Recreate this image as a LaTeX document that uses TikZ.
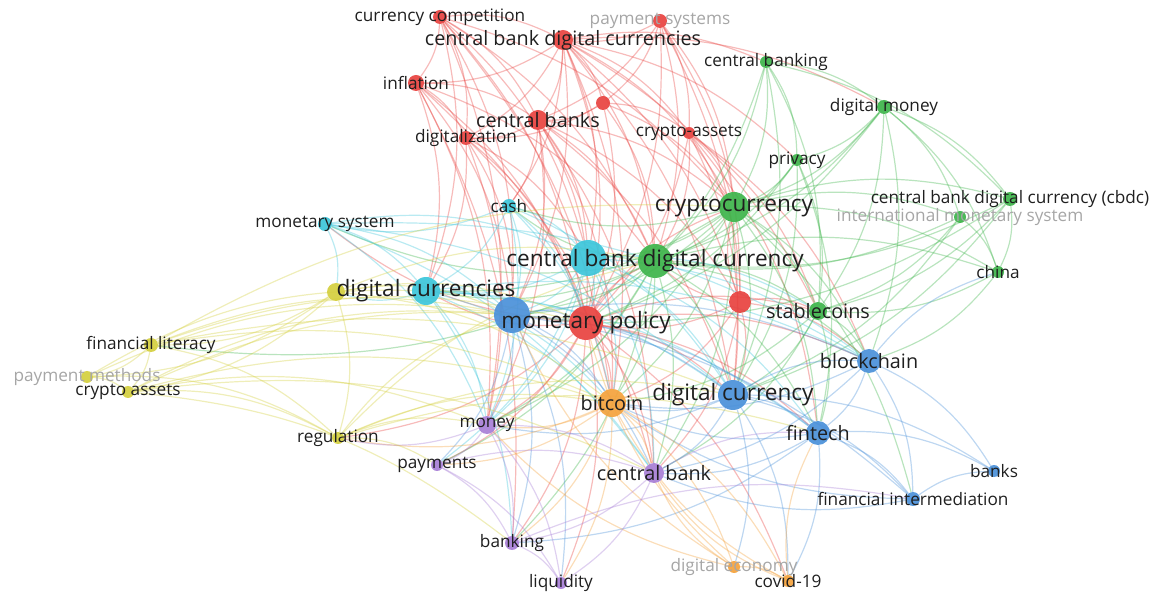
\documentclass[tikz,border=0pt]{standalone}
\usepackage{fontspec}
\setmainfont{Open Sans}
\usetikzlibrary{backgrounds}

\definecolor{cred}{HTML}{E8423F}
\definecolor{cgreen}{HTML}{3DB44A}
\definecolor{ccyan}{HTML}{3CC5DA}
\definecolor{cblue}{HTML}{4A90D9}
\definecolor{corange}{HTML}{F4A23C}
\definecolor{cpurple}{HTML}{A77ED6}
\definecolor{cyellow}{HTML}{D4CF3E}

\begin{document}
\begin{tikzpicture}[x=1pt,y=-1pt,
    dot/.style={circle,fill=#1,fill opacity=0.92,inner sep=0pt},
    lb/.style={text=black!88,font=\fontsize{17.2}{19}\selectfont,inner sep=1pt},
    lbm/.style={lb,font=\fontsize{19.8}{21}\selectfont},
    lbb/.style={lb,font=\fontsize{22.6}{24}\selectfont},
    lbf/.style={lb,text=black!35},
    ln/.style={line width=1.2pt,draw opacity=0.36,bend left=16},
    lred/.style={ln,draw=cred},
    lgreen/.style={ln,draw=cgreen},
    lcyan/.style={ln,draw=ccyan},
    lblue/.style={ln,draw=cblue},
    lorange/.style={ln,draw=corange},
    lpurple/.style={ln,draw=cpurple},
    lyellow/.style={ln,draw=cyellow}]
  \useasboundingbox (0,0) rectangle (1165,593);

  % red cluster
  \node[dot=cred,minimum size=14pt,label={[lb]center:currency competition}] (ccomp) at (440,17) {};
  \node[dot=cred,minimum size=14pt,label={[lbf]center:payment systems}] (psys) at (660,21) {};
  \node[dot=cred,minimum size=20pt,label={[lbm]center:central bank digital currencies}] (cbdcs) at (563,40) {};
  \node[dot=cred,minimum size=16pt,label={[lb]center:inflation}] (infl) at (416,83) {};
  \node[dot=cred,minimum size=14pt] (redA) at (603,103) {};
  \node[dot=cred,minimum size=20pt,label={[lbm]center:central banks}] (cbanks) at (538,120) {};
  \node[dot=cred,minimum size=14pt,label={[lb]center:digitalization}] (digit) at (466,138) {};
  \node[dot=cred,minimum size=12pt,label={[lb]center:crypto-assets}] (cassets) at (689,133) {};
  \node[dot=cred,minimum size=22pt] (redB) at (740,302) {};

  % green cluster
  \node[dot=cgreen,minimum size=12pt,label={[lb]center:central banking}] (cbanking) at (766,62) {};
  \node[dot=cgreen,minimum size=14pt,label={[lb]center:digital money}] (dmoney) at (884,107) {};
  \node[dot=cgreen,minimum size=12pt,label={[lb]center:privacy}] (priv) at (797,160) {};
  \node[dot=cgreen,minimum size=14pt,label={[lb]center:central bank digital currency (cbdc)}] (cbdcc) at (1010,199) {};
  \node[dot=cgreen,minimum size=12pt,label={[lbf]center:international monetary system}] (ims) at (960,217) {};
  \node[dot=cgreen,minimum size=12pt,label={[lb]center:china}] (china) at (998,272) {};
  \node[dot=cgreen,minimum size=18pt,label={[lbm]center:stablecoins}] (stable) at (818,311) {};
  \node[dot=cgreen,minimum size=30pt,label={[lbb]center:cryptocurrency}] (crypto) at (734,207) {};

  % cyan cluster
  \node[dot=ccyan,minimum size=14pt,label={[lb]center:cash}] (cash) at (509,206) {};
  \node[dot=ccyan,minimum size=14pt,label={[lb]center:monetary system}] (msys) at (325,224) {};
  \node[dot=ccyan,minimum size=36pt] (cyanA) at (588,258) {};
  \node[dot=cgreen,minimum size=34pt,label={[lbb]center:central bank digital currency}] (cbdc) at (655,261) {};
  \node[dot=cyellow,minimum size=18pt] (yelA) at (336,292) {};
  \node[dot=ccyan,minimum size=28pt,label={[lbb]center:digital currencies}] (dcs) at (426,291) {};

  % blue cluster
  \node[dot=cblue,minimum size=36pt] (blueA) at (512,315) {};
  \node[dot=cred,minimum size=34pt,label={[lbb]center:monetary policy}] (mpol) at (586,323) {};
  \node[dot=cblue,minimum size=24pt,label={[lbm]center:blockchain}] (bchain) at (869,361) {};
  \node[dot=cblue,minimum size=30pt,label={[lbb]center:digital currency}] (dcur) at (733,395) {};
  \node[dot=cblue,minimum size=24pt,label={[lbm]center:fintech}] (fintech) at (818,433) {};
  \node[dot=cblue,minimum size=12pt,label={[lb]center:banks}] (banks) at (994,471) {};
  \node[dot=cblue,minimum size=14pt,label={[lb]center:financial intermediation}] (finint) at (913,499) {};

  % orange cluster
  \node[dot=corange,minimum size=28pt,label={[lbm]center:bitcoin}] (btc) at (612,403) {};
  \node[dot=corange,minimum size=12pt,label={[lbf]center:digital economy}] (decon) at (734,567) {};
  \node[dot=corange,minimum size=12pt,label={[lb]center:covid-19}] (covid) at (788,581) {};

  % purple cluster
  \node[dot=cpurple,minimum size=18pt,label={[lb]center:money}] (money) at (487,425) {};
  \node[dot=cpurple,minimum size=12pt,label={[lb]center:payments}] (pays) at (437,465) {};
  \node[dot=cpurple,minimum size=20pt,label={[lbm]center:central bank}] (cbank) at (654,473) {};
  \node[dot=cpurple,minimum size=14pt,label={[lb]center:banking}] (banking) at (512,543) {};
  \node[dot=cpurple,minimum size=12pt,label={[lb]center:liquidity}] (liq) at (561,583) {};

  % yellow cluster
  \node[dot=cyellow,minimum size=14pt,label={[lb]center:financial literacy}] (flit) at (151,345) {};
  \node[dot=cyellow,minimum size=12pt,label={[lbf]center:payment methods}] (pmeth) at (87,377) {};
  \node[dot=cyellow,minimum size=12pt,label={[lb]center:crypto assets}] (cassets2) at (128,392) {};
  \node[dot=cyellow,minimum size=12pt,label={[lb]center:regulation}] (reg) at (338,438) {};

  \begin{pgfonlayer}{background}
  % red links
  \path[lred] (ccomp) edge (infl) (ccomp) edge (cbanks) (ccomp) edge (cbdcs) (ccomp) edge (digit)
    (ccomp) edge (mpol) (ccomp) edge (cbdc) (ccomp) edge (crypto) (ccomp) edge (cyanA)
    (ccomp) edge (blueA) (ccomp) edge (dcs) (ccomp) edge (btc) (ccomp) edge (money);
  \path[lred] (psys) edge (cbdcs) (psys) edge (cbanks) (psys) edge (cassets) (psys) edge (mpol)
    (psys) edge (redB) (psys) edge (crypto) (psys) edge (cbdc) (psys) edge (redA) (psys) edge (dcur);
  \path[lred] (cbdcs) edge (infl) (cbdcs) edge (cbanks) (cbdcs) edge (redA) (cbdcs) edge (cassets)
    (cbdcs) edge (mpol) (cbdcs) edge (cbdc) (cbdcs) edge (crypto) (cbdcs) edge (cbanking)
    (cbdcs) edge (dmoney) (cbdcs) edge (stable) (cbdcs) edge (redB) (cbdcs) edge (dcur)
    (cbdcs) edge (blueA) (cbdcs) edge (cyanA) (cbdcs) edge (digit) (cbdcs) edge (cash)
    (cbdcs) edge (btc) (cbdcs) edge (priv);
  \path[lred] (infl) edge (digit) (infl) edge (cbanks) (infl) edge (mpol) (infl) edge (blueA)
    (infl) edge (money) (infl) edge (cbdc) (infl) edge (banking) (infl) edge (dcs) (infl) edge (cbank);
  \path[lred] (redA) edge (cbanks) (redA) edge (cassets) (redA) edge (mpol) (redA) edge (cbdc)
    (redA) edge (crypto) (redA) edge (digit);
  \path[lred] (cbanks) edge (digit) (cbanks) edge (mpol) (cbanks) edge (cbdc) (cbanks) edge (cyanA)
    (cbanks) edge (blueA) (cbanks) edge (crypto) (cbanks) edge (dcur) (cbanks) edge (btc)
    (cbanks) edge (cash) (cbanks) edge (cbank) (cbanks) edge (money) (cbanks) edge (redB);
  \path[lred] (digit) edge (mpol) (digit) edge (blueA) (digit) edge (dcs) (digit) edge (cyanA)
    (digit) edge (btc) (digit) edge (money);
  \path[lred] (cassets) edge (crypto) (cassets) edge (cbdc) (cassets) edge (mpol) (cassets) edge (redB)
    (cassets) edge (stable) (cassets) edge (dcur) (cassets) edge (bchain) (cassets) edge (fintech);
  \path[lred] (redB) edge (cbdc) (redB) edge (mpol) (redB) edge (stable) (redB) edge (crypto)
    (redB) edge (dcur) (redB) edge (bchain) (redB) edge (btc) (redB) edge (cbank);
  \path[lred] (mpol) edge (cbdc) (mpol) edge (crypto) (mpol) edge (dcur) (mpol) edge (btc)
    (mpol) edge (money) (mpol) edge (cbank) (mpol) edge (fintech) (mpol) edge (bchain)
    (mpol) edge (dcs) (mpol) edge (msys) (mpol) edge (pays) (mpol) edge (banking)
    (mpol) edge (liq) (mpol) edge (stable) (mpol) edge (covid) (mpol) edge (reg);
  % green links
  \path[lgreen] (cbanking) edge (crypto) (cbanking) edge (cbdc) (cbanking) edge (dmoney)
    (cbanking) edge (priv) (cbanking) edge (cbdcc) (cbanking) edge (stable) (cbanking) edge (mpol)
    (cbanking) edge (dcur);
  \path[lgreen] (dmoney) edge (crypto) (dmoney) edge (cbdc) (dmoney) edge (priv) (dmoney) edge (cbdcc)
    (dmoney) edge (ims) (dmoney) edge (china) (dmoney) edge (stable) (dmoney) edge (bchain)
    (dmoney) edge (mpol);
  \path[lgreen] (priv) edge (crypto) (priv) edge (cbdc) (priv) edge (stable) (priv) edge (dcur)
    (priv) edge (fintech) (priv) edge (mpol);
  \path[lgreen] (crypto) edge (cbdc) (crypto) edge (stable) (crypto) edge (cbdcc) (crypto) edge (ims)
    (crypto) edge (china) (crypto) edge (bchain) (crypto) edge (fintech) (crypto) edge (dcur)
    (crypto) edge (btc) (crypto) edge (blueA) (crypto) edge (cash) (crypto) edge (dcs)
    (crypto) edge (cyanA) (crypto) edge (cbank) (crypto) edge (money) (crypto) edge (finint);
  \path[lgreen] (cbdcc) edge (cbdc) (cbdcc) edge (china) (cbdcc) edge (stable) (cbdcc) edge (dcur)
    (cbdcc) edge (mpol);
  \path[lgreen] (ims) edge (cbdc) (ims) edge (stable) (ims) edge (china) (ims) edge (dcur);
  \path[lgreen] (cbdc) edge (stable) (cbdc) edge (china) (cbdc) edge (dcur) (cbdc) edge (bchain)
    (cbdc) edge (fintech) (cbdc) edge (btc) (cbdc) edge (blueA) (cbdc) edge (dcs)
    (cbdc) edge (msys) (cbdc) edge (cash) (cbdc) edge (cbank) (cbdc) edge (money)
    (cbdc) edge (pays) (cbdc) edge (banking) (cbdc) edge (flit);
  \path[lgreen] (china) edge (stable) (china) edge (bchain) (stable) edge (dcur) (stable) edge (bchain)
    (stable) edge (fintech) (stable) edge (btc) (stable) edge (cbank);
  % cyan links
  \path[lcyan] (cash) edge (cyanA) (cash) edge (dcs) (cash) edge (blueA) (cash) edge (mpol)
    (cash) edge (msys) (cash) edge (btc) (cash) edge (dcur) (cash) edge (money);
  \path[lcyan] (msys) edge (dcs) (msys) edge (cyanA) (msys) edge (blueA) (msys) edge (yelA)
    (msys) edge (bchain) (msys) edge (dcur) (msys) edge (money) (msys) edge (cbank);
  \path[lcyan] (cyanA) edge (dcs) (cyanA) edge (blueA) (cyanA) edge (mpol) (cyanA) edge (btc)
    (cyanA) edge (dcur) (cyanA) edge (fintech) (cyanA) edge (bchain) (cyanA) edge (stable)
    (cyanA) edge (cbank) (cyanA) edge (money) (cyanA) edge (pays);
  \path[lcyan] (dcs) edge (blueA) (dcs) edge (btc) (dcs) edge (dcur) (dcs) edge (fintech)
    (dcs) edge (bchain) (dcs) edge (money) (dcs) edge (yelA) (dcs) edge (cbank) (dcs) edge (banking);
  % blue links
  \path[lblue] (blueA) edge (mpol) (blueA) edge (btc) (blueA) edge (dcur) (blueA) edge (fintech)
    (blueA) edge (bchain) (blueA) edge (money) (blueA) edge (cbank) (blueA) edge (pays)
    (blueA) edge (banking) (blueA) edge (liq) (blueA) edge (finint);
  \path[lblue] (dcur) edge (bchain) (dcur) edge (fintech) (dcur) edge (btc) (dcur) edge (finint)
    (dcur) edge (banks) (dcur) edge (cbank) (dcur) edge (money) (dcur) edge (covid) (dcur) edge (decon);
  \path[lblue] (bchain) edge (fintech) (bchain) edge (banks) (bchain) edge (finint) (bchain) edge (china)
    (bchain) edge (btc) (bchain) edge (cbank);
  \path[lblue] (fintech) edge (banks) (fintech) edge (finint) (fintech) edge (btc) (fintech) edge (cbank)
    (fintech) edge (covid) (fintech) edge (banking) (finint) edge (banks) (finint) edge (cbank)
    (finint) edge (btc);
  % orange links
  \path[lorange] (btc) edge (decon) (btc) edge (covid) (btc) edge (cbank) (btc) edge (money)
    (btc) edge (banking) (btc) edge (pays) (btc) edge (liq) (btc) edge (reg);
  \path[lorange] (decon) edge (covid) (decon) edge (cbank) (decon) edge (mpol) (decon) edge (blueA)
    (decon) edge (money) (covid) edge (cbank) (covid) edge (fintech) (covid) edge (btc);
  % purple links
  \path[lpurple] (money) edge (pays) (money) edge (cbank) (money) edge (banking) (money) edge (liq)
    (money) edge (reg) (pays) edge (cbank) (pays) edge (banking) (pays) edge (liq)
    (cbank) edge (banking) (cbank) edge (liq) (cbank) edge (fintech) (banking) edge (liq)
    (banking) edge (finint);
  % yellow links
  \path[lyellow] (yelA) edge (flit) (yelA) edge (cassets2) (yelA) edge (pmeth) (yelA) edge (reg)
    (yelA) edge (mpol) (yelA) edge (cbdc) (yelA) edge (blueA) (yelA) edge (btc);
  \path[lyellow] (flit) edge (cassets2) (flit) edge (pmeth) (flit) edge (reg) (flit) edge (mpol)
    (flit) edge (blueA) (flit) edge (dcur) (flit) edge (btc) (flit) edge (crypto);
  \path[lyellow] (pmeth) edge (cassets2) (pmeth) edge (reg) (pmeth) edge (blueA) (pmeth) edge (dcs);
  \path[lyellow] (cassets2) edge (reg) (cassets2) edge (mpol) (cassets2) edge (money)
    (cassets2) edge (banking) (cassets2) edge (cbank) (cassets2) edge (blueA) (cassets2) edge (btc);
  \path[lyellow] (reg) edge (blueA) (reg) edge (money) (reg) edge (pays) (reg) edge (btc)
    (reg) edge (dcur) (reg) edge (cbdc) (reg) edge (fintech);
  \end{pgfonlayer}
\end{tikzpicture}
\end{document}
